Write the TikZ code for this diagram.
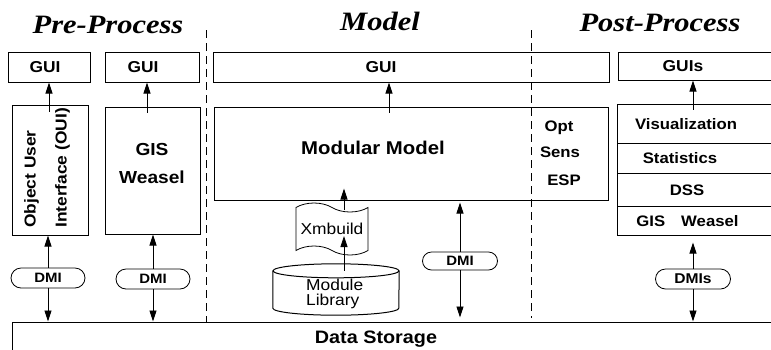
\documentclass[tikz,border=0pt]{standalone}
\usepackage{fontspec}
\setmainfont{Liberation Sans}[FakeStretch=1.1]
\newfontfamily\titlefont{Liberation Serif}[FakeStretch=1.15]
\usetikzlibrary{shapes.misc,shapes.symbols,arrows.meta,calc}

\tikzset{
  box/.style={draw, line width=1pt, inner sep=0pt},
  area/.style={inner sep=0pt},
  lbl/.style={inner sep=0pt, font=\bfseries\fontsize{15.8}{18}\selectfont},
  side/.style={inner sep=0pt, font=\bfseries\fontsize{15.2}{17}\selectfont},
  plain/.style={inner sep=0pt, font=\fontsize{15.8}{15}\selectfont},
  heading/.style={inner sep=0pt, anchor=base, font=\titlefont\bfseries\itshape\fontsize{26.5}{30}\selectfont},
  pill/.style={draw, rounded rectangle, line width=0.8pt, inner sep=0pt,
    minimum width=74pt, minimum height=20pt, font=\bfseries\fontsize{13.6}{15}\selectfont},
  arr/.style={line width=0.8pt, -{Triangle[length=11pt,width=7pt]}},
  divider/.style={line width=0.8pt, dash pattern=on 8pt off 5pt},
}

\begin{document}
\begin{tikzpicture}[x=1pt,y=-1pt]
\useasboundingbox (0,0) rectangle (771,349);

% section headings
\node[heading] (hpre)  at (108,33) {Pre-Process};
\node[heading] (hmod)  at (380,30) {Model};
\node[heading] (hpost) at (660,31) {Post-Process};

% GUI row
\node[box, minimum width=82pt,  minimum height=30pt] (gui1) at (49,67) {};
\node[box, minimum width=94pt,  minimum height=30pt] (gui2) at (152,67) {};
\node[box, minimum width=396pt, minimum height=30pt] (gui3) at (411,67) {};
\node[box, minimum width=157pt, minimum height=28pt] (gui4) at (696.5,66) {};
\node[lbl] (tgui1) at (45,67)  {GUI};
\node[lbl] (tgui2) at (143,67) {GUI};
\node[lbl] (tgui3) at (381,67) {GUI};
\node[lbl] (tgui4) at (683,66) {GUIs};

% pre-process components
\node[box, minimum width=76pt, minimum height=130pt] (oui) at (50,170) {};
\node[lbl, rotate=90, anchor=west, align=left, font=\bfseries\fontsize{15.8}{31}\selectfont]
  (toui) at (47,228) {Object User\\Interface (OUI)};
\node[box, minimum width=95pt, minimum height=127pt] (gis) at (152.5,170.5) {};
\node[lbl, align=center, font=\bfseries\fontsize{17.4}{28}\selectfont] (tgis) at (152,164) {GIS\\Weasel};

% model components
\node[box, minimum width=394pt, minimum height=93pt] (mm) at (411,153.5) {};
\node[lbl, font=\bfseries\fontsize{18.5}{21}\selectfont] (tmm) at (373,148) {Modular Model};
\node[side, anchor=base] (topt)  at (559,131) {Opt};
\node[side, anchor=base] (tsens) at (560,157) {Sens};
\node[side, anchor=base] (tesp)  at (564,185) {ESP};

\node[tape, draw, line width=0.8pt, inner sep=0pt, minimum width=72pt, minimum height=52pt,
  tape bend top=out and in, tape bend bottom=out and in, tape bend height=9pt,
  font=\fontsize{15.8}{18}\selectfont] (xm) at (332,229) {Xmbuild};

% module library drum
\node[area, minimum width=126pt, minimum height=51pt] (lib) at (336,289.5) {};
\draw[line width=1pt] ($(lib.north)+(0,7)$) ellipse [x radius=63, y radius=7];
\draw[line width=1pt] ($(lib.north west)+(0,7)$) -- ($(lib.south west)+(0,-7)$)
  arc[start angle=180, end angle=0, x radius=63, y radius=7] -- ($(lib.north east)+(0,7)$);
\node[plain, anchor=north west, align=left] (tlib) at (306,279) {Module\\Library};

% post-process stack
\node[box, minimum width=158pt, minimum height=39pt] (vis)  at (696,123.5) {};
\node[box, minimum width=158pt, minimum height=30pt] (stat) at (696,158) {};
\node[box, minimum width=158pt, minimum height=33pt] (dss)  at (696,189.5) {};
\node[box, minimum width=158pt, minimum height=29pt] (gw)   at (696,220.5) {};
\node[side] (tvis)  at (686,124) {Visualization};
\node[side] (tstat) at (680,158) {Statistics};
\node[side] (tdss)  at (687,190) {DSS};
\node[side] (tgw)   at (687.5,221) {GIS\hspace{16pt}Weasel};

% data storage
\node[box, minimum width=763pt, minimum height=30pt] (ds) at (393.5,337) {};
\node[lbl, anchor=base, font=\bfseries\fontsize{18}{20}\selectfont] (tds) at (376,343) {Data Storage};

% data management interfaces
\node[pill] (dmi1) at (48,278) {DMI};
\node[pill] (dmi2) at (153,279) {DMI};
\node[pill, minimum width=75pt, minimum height=18pt] (dmi3) at (460,261) {DMI};
\node[pill, minimum width=75pt, font=\bfseries\fontsize{14.2}{16}\selectfont] (dmis) at (693,279) {DMIs};

% section dividers
\coordinate (d1) at (206,30);
\coordinate (d2) at (531,30);
\draw[divider] (d1) -- (d1 |- ds.north);
\draw[divider] (d2) -- ($(d2 |- ds.north)+(0,-4)$);

% connectors to the GUIs
\draw[arr] ($(oui.north)+(-1,7)$) -- (gui1.south);
\draw[arr] ($(gis.north)+(-5.5,6)$) -- ($(gui2.south)+(-5,0)$);
\draw[arr] ($(mm.north)+(-22,6)$) -- ($(gui3.south)+(-22,0)$);
\draw[arr] ($(dmis.center |- vis.north)+(0,6)$) -- (dmis.center |- gui4.south);

% connectors through the interfaces
\draw[arr] (dmi1.north) -- (dmi1.north |- oui.south);
\draw[arr] (dmi1.south) -- (dmi1.south |- ds.north);
\draw[arr] (dmi2.north) -- (dmi2.north |- gis.south);
\draw[arr] (dmi2.south) -- (dmi2.south |- ds.north);
\draw[arr] (dmi3.north) -- ($(dmi3.north |- mm.south)+(0,2)$);
\draw[arr] (dmi3.south) -- ($(dmi3.south |- ds.north)+(0,-4)$);
\draw[arr] (dmis.north) -- ($(dmis.north |- gw.south)+(0,7)$);
\draw[arr] (dmis.south) -- (dmis.south |- ds.north);

% build chain
\draw[arr] ($(lib.north)+(8,7)$) -- ($(xm.center)+(12,7)$);
\draw[arr] ($(xm.center)+(12,-19)$) -- ($(xm.center |- mm.south)+(12,-12)$);
\end{tikzpicture}
\end{document}
